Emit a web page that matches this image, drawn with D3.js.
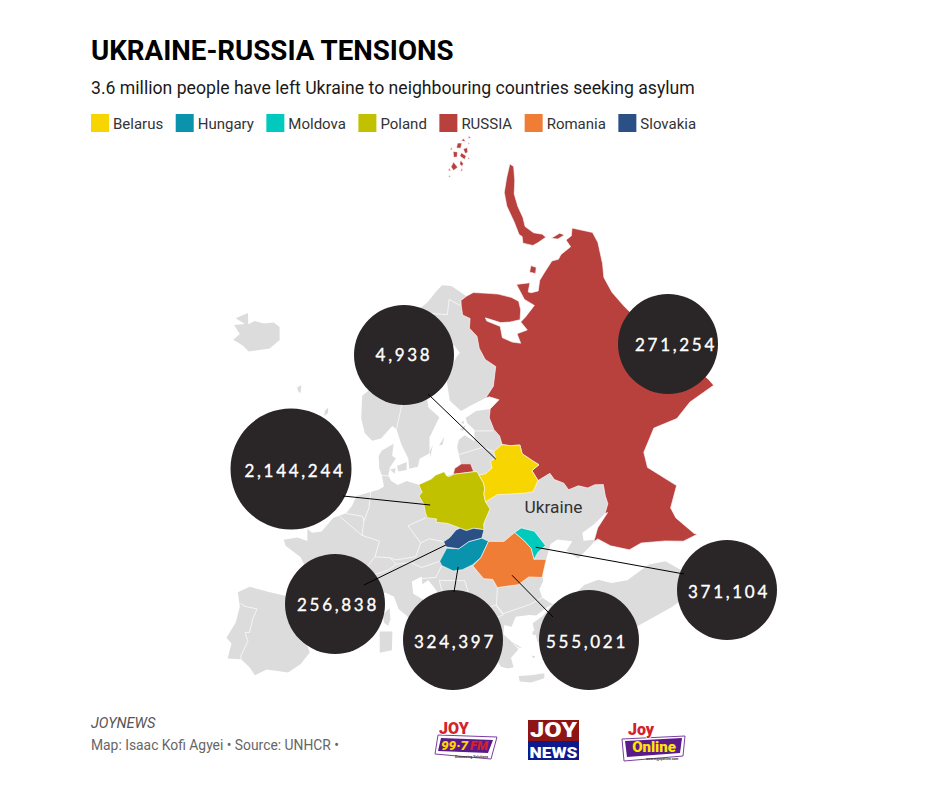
<!DOCTYPE html>
<html>
<head>
<meta charset="utf-8">
<script src="https://cdn.jsdelivr.net/npm/d3@7"></script>
<style>
  html, body { margin: 0; background: #fff; }
  text { font-family: Roboto, sans-serif; }
</style>
</head>
<body>
<div id="map"></div>
<script>
const width = 940;
const height = 788;

// Legend
const legendNames = ["Belarus", "Hungary", "Moldova", "Poland", "RUSSIA", "Romania", "Slovakia"];
const legendColors = ["#f7d500", "#0a93ac", "#00c9bd", "#c2c100", "#b8403d", "#f07d35", "#2b5086"];

// Refugee counts per neighbour
const calloutNames = ["Belarus", "RUSSIA", "Poland", "Slovakia", "Hungary", "Romania", "Moldova"];
const calloutValues = [4938, 271254, 2144244, 256838, 324397, 555021, 371104];
// Where each callout leader touches the country [lon, lat], null = no leader
const calloutAnchors = [[26.6, 55.0], null, [15.6, 52.0], [17.2, 48.3], [18.4, 46.2], [25.0, 44.6], [28.8, 46.5]];

// Outlines, all [lon, lat]
// Shared edge Russia / Baltics, Belarus, Ukraine, north to south
const russiaWestBorder = [[28.0,59.45],[27.4,58.7],[27.6,57.6],[28.2,56.9],[28.2,56.1],[29.4,55.8],[30.9,55.6],[30.8,54.8],[32.0,53.9],[32.7,53.4],[31.4,53.1],[31.8,52.1],[33.8,52.35],[34.1,51.7],[35.2,51.1],[35.5,50.4],[37.0,50.4],[38.1,49.9],[39.2,49.9],[40.3,49.6],[39.9,48.6],[39.8,47.9],[38.9,47.2]];

const europeLand = [[-5.6,36.0],[-6.3,36.6],[-7.4,37.2],[-8.9,37.0],[-8.8,38.4],[-9.5,38.8],[-8.8,40.3],[-8.7,41.8],[-9.3,43.0],[-8.0,43.7],[-5.8,43.6],[-3.8,43.5],[-1.8,43.4],[-1.2,44.6],[-1.2,46.0],[-2.2,47.1],[-4.4,47.9],[-4.8,48.4],[-3.0,48.8],[-1.6,48.6],[-1.8,49.7],[-1.1,49.4],[0.2,49.6],[1.6,50.9],[3.4,51.4],[4.2,52.1],[4.8,53.0],[6.9,53.4],[8.1,53.6],[8.9,53.9],[8.6,54.9],[8.2,55.5],[8.1,56.6],[8.6,57.1],[10.6,57.7],[10.3,56.6],[10.9,56.4],[9.9,55.6],[9.6,54.9],[10.0,54.4],[11.0,54.0],[12.4,54.3],[14.2,53.9],[16.2,54.3],[18.3,54.8],[18.6,54.4],[19.6,54.45],[20.0,54.95],[21.1,55.3],[21.0,56.8],[21.5,57.4],[22.6,57.7],[24.0,57.0],[24.4,58.0],[23.5,58.7],[23.4,59.2],[25.5,59.6]].concat(russiaWestBorder, [[36.9,46.7],[35.2,46.4],[35.0,45.7],[36.6,45.4],[35.4,45.0],[33.6,44.4],[32.5,45.4],[33.6,46.0],[31.8,46.6],[30.8,46.4],[29.7,45.2],[28.7,44.0],[28.6,43.4],[27.9,42.8],[28.0,42.0],[29.0,41.2],[28.0,41.0],[26.8,40.6],[26.0,40.8],[24.4,40.9],[23.7,40.1],[22.9,40.4],[22.6,39.6],[23.2,39.0],[24.0,38.0],[23.0,37.4],[23.1,36.5],[22.4,36.5],[21.7,36.8],[21.2,37.9],[21.2,38.3],[20.7,38.9],[19.4,40.4],[19.5,41.8],[18.4,42.5],[16.0,43.5],[15.0,44.7],[14.4,45.3],[13.6,45.0],[13.6,45.7],[12.3,45.3],[12.4,44.2],[13.6,43.6],[14.7,42.2],[16.2,41.8],[18.5,40.1],[16.9,40.4],[16.5,39.7],[17.1,39.0],[16.1,37.9],[15.7,38.0],[16.2,39.0],[15.6,40.1],[14.3,40.8],[12.3,41.7],[10.5,42.9],[10.0,44.0],[8.9,44.4],[7.5,43.8],[6.1,43.0],[4.0,43.5],[3.1,43.0],[3.2,41.9],[0.9,41.0],[-0.3,39.5],[0.2,38.7],[-0.7,37.6],[-2.0,36.7],[-4.4,36.7]]);

const nordicLand = [[12.9,55.4],[14.3,55.5],[14.7,56.2],[16.4,56.6],[16.7,58.0],[18.9,59.7],[17.2,60.7],[17.2,62.0],[18.6,63.0],[21.0,64.3],[21.3,65.2],[22.5,65.8],[24.6,65.8],[25.4,65.0],[24.5,64.7],[21.5,63.1],[21.3,61.0],[22.9,59.9],[25.0,60.2],[27.8,60.5],[29.8,61.3],[31.5,62.9],[30.0,63.8],[29.6,64.9],[30.0,66.0],[29.0,66.9],[29.9,67.7],[28.5,68.2],[28.9,69.0],[29.3,69.5],[31.0,69.7],[28.2,71.0],[25.8,71.3],[23.5,70.8],[21.0,70.1],[18.0,69.5],[15.5,68.4],[14.0,67.2],[12.5,65.4],[10.5,64.0],[8.0,63.2],[5.0,62.0],[5.0,60.0],[5.7,58.7],[7.0,58.0],[8.5,58.2],[10.5,59.3],[11.2,59.0],[11.9,57.6],[12.9,56.3]];

const turkeyLand = [[26.2,40.0],[27.5,40.4],[29.0,41.2],[31.4,41.3],[33.3,42.0],[35.1,42.0],[36.5,41.3],[38.4,41.0],[41.5,41.5],[43.5,41.1],[44.8,39.7],[44.5,37.5],[42.0,37.2],[36.0,36.7],[36.0,36.2],[34.0,36.2],[32.5,36.1],[30.6,36.8],[29.5,36.2],[27.5,37.0],[26.3,38.3],[26.2,39.4]];

const greyIslands = [
  [[-24.4,66.0],[-22.5,66.9],[-21.3,66.0],[-20.3,66.5],[-18.2,66.6],[-16.2,67.0],[-14.6,66.8],[-13.6,65.7],[-15.0,64.7],[-18.8,63.8],[-20.5,64.1],[-22.7,64.2],[-22.0,64.9],[-24.0,65.4],[-22.0,65.9]],
  [[-10.0,52.0],[-9.5,53.5],[-8.2,55.1],[-6.0,55.2],[-5.5,54.3],[-6.2,52.3],[-8.5,51.6]],
  [[-5.6,50.1],[-3.5,51.2],[-5.0,51.7],[-4.3,53.2],[-3.0,53.6],[-3.5,55.0],[-5.5,55.5],[-6.0,57.5],[-5.0,58.6],[-3.2,58.6],[-2.0,57.6],[-2.2,56.2],[-1.4,55.0],[0.2,53.5],[1.7,52.7],[1.0,51.3],[-1.0,50.7],[-3.5,50.3]],
  [[-1.6,59.9],[-1.0,60.2],[-1.1,60.7],[-1.6,60.4]],
  [[-7.5,62.0],[-6.8,62.3],[-6.6,61.6],[-7.0,61.6]],
  [[8.2,39.0],[8.2,40.9],[9.7,40.9],[9.6,39.2]],
  [[8.6,42.4],[9.4,43.0],[9.5,42.0],[9.2,41.4],[8.7,41.7]],
  [[12.5,38.0],[15.6,38.2],[15.1,36.7],[13.5,37.3]],
  [[23.5,35.65],[24.8,35.5],[26.3,35.4],[26.2,34.95],[24.7,34.85],[23.5,35.15]],
  [[2.4,39.6],[3.4,39.8],[3.1,39.3]],
  [[32.3,35.0],[34.5,35.6],[33.5,34.7]],
  [[23.2,38.9],[24.5,38.0],[24.0,38.2]],
  [[26.0,39.3],[26.6,39.3],[26.4,38.9],[25.9,39.0]],
  [[27.8,36.2],[28.3,36.5],[28.0,35.9]],
  [[25.3,37.2],[25.7,37.1],[25.5,36.9]],
  [[11.0,55.7],[12.6,56.0],[12.5,55.3],[11.2,55.2]],
  [[9.9,55.4],[10.8,55.5],[10.6,55.0]],
  [[18.1,57.2],[19.2,57.9],[18.7,57.2]],
  [[16.4,56.2],[17.1,57.3],[16.5,56.8]],
  [[22.0,58.3],[23.2,58.6],[22.5,58.1]],
  [[22.4,58.9],[23.0,59.0],[22.9,58.7]]
];

const russiaMain = [[31.0,69.7],[33.0,69.8],[36.0,69.3],[38.5,68.8],[41.0,68.0],[42.0,67.4],[41.4,66.65],[40.2,65.9],[38.0,66.1],[36.0,66.4],[33.3,67.3],[33.3,67.0],[35.6,66.1],[35.0,65.1],[36.5,64.4],[38.0,64.0],[38.2,64.9],[40.5,64.8],[40.1,65.7],[41.6,65.9],[44.6,66.4],[43.4,67.3],[43.7,68.8],[46.7,68.3],[45.1,67.7],[45.6,67.5],[47.2,67.3],[49.0,68.0],[51.0,68.3],[54.4,68.7],[55.9,68.44],[57.2,68.6],[60.3,68.5],[60.8,69.2],[62.5,69.1],[64.2,69.5],[66.6,67.9],[65.5,67.0],[62.5,65.5],[60.5,64.6],[59.5,63.2],[59.3,61.5],[59.5,59.8],[59.0,59.0],[60.0,58.0],[62.0,56.8],[63.0,55.5],[62.5,54.0],[61.0,53.9],[61.5,52.0],[61.5,51.3],[57.2,51.6],[54.2,51.2],[50.6,51.7],[47.5,50.4],[46.9,49.1],[47.9,47.9],[49.1,46.4],[47.0,45.0],[47.0,44.0],[48.1,42.0],[48.4,41.8],[46.5,41.9],[44.5,42.7],[41.7,43.5],[40.0,43.4],[38.0,44.4],[36.8,45.4],[36.2,45.3],[37.3,46.3],[39.3,47.2]].concat(russiaWestBorder.slice().reverse(), [[30.0,60.0],[28.5,60.5],[27.8,60.5],[29.8,61.3],[31.5,62.9],[30.0,63.8],[29.6,64.9],[30.0,66.0],[29.0,66.9],[29.9,67.7],[28.5,68.2],[28.9,69.0],[29.3,69.5]]);

const russiaIslands = [
  [[51.7,71.5],[52.8,72.0],[52.5,72.3],[54.0,73.4],[56.0,74.9],[59.0,75.9],[64.0,76.6],[69.5,77.1],[69.4,76.7],[65.0,75.9],[61.0,75.2],[58.5,74.2],[57.0,73.2],[55.5,72.5],[56.0,71.6],[57.5,71.0],[57.6,70.6],[55.0,70.7],[53.4,70.8]],
  [[48.2,69.1],[49.5,69.5],[50.3,69.1],[49.2,68.7]],
  [[58.4,70.2],[61.0,70.0],[61.5,69.6],[59.5,69.75]],
  [[19.65,54.45],[22.8,54.35],[22.6,55.1],[21.2,55.25],[20.0,54.95]],
  // Franz Josef Land
  [[50.5,80.7],[53.5,80.9],[53.0,80.3],[50.2,80.3]],
  [[55.0,80.4],[57.0,80.6],[56.5,80.2],[55.0,80.1]],
  [[58.5,80.9],[60.5,81.0],[60.8,80.5],[58.7,80.4]],
  [[61.5,80.7],[63.0,81.1],[65.0,80.9],[63.0,80.6]],
  [[55.5,81.2],[58.0,81.6],[59.5,81.3],[57.0,81.0]],
  [[61.0,81.6],[64.0,81.8],[65.5,81.5],[62.5,81.3]],
  [[66.5,81.7],[68.5,81.6],[67.5,81.3]],
  [[52.5,79.9],[54.5,80.0],[53.5,79.8]],
  [[48.0,80.6],[49.2,80.7],[49.0,80.4]],
  [[57.5,81.9],[59.5,81.95],[58.5,81.75]],
  [[46.0,80.1],[47.0,80.2],[46.8,80.0]],
  [[67.0,81.0],[68.0,81.1],[67.8,80.9]],
  [[60.0,80.2],[61.0,80.3],[60.8,80.1]],
  [[70.0,81.3],[71.5,81.35],[71.0,81.1]]
];

const poland = [[14.2,53.9],[16.2,54.3],[16.9,54.6],[18.3,54.8],[18.6,54.4],[19.0,54.3],[19.7,54.45],[22.8,54.35],[23.3,54.3],[23.5,53.95],[23.9,53.2],[23.9,52.7],[23.6,52.2],[23.6,51.5],[24.0,50.8],[23.0,49.9],[22.7,49.6],[22.6,49.1],[21.2,49.4],[20.2,49.3],[19.4,49.6],[18.6,49.9],[17.7,50.2],[17.0,50.3],[16.2,50.4],[16.3,50.7],[15.0,50.9],[14.8,51.4],[14.7,52.1],[14.1,52.9],[14.6,53.2]];
const belarus = [[23.5,53.95],[24.5,53.95],[25.7,54.3],[25.7,54.9],[26.6,55.1],[26.6,55.7],[28.2,56.1],[29.4,55.8],[30.9,55.6],[30.8,54.8],[32.0,53.9],[32.7,53.4],[31.4,53.1],[31.8,52.1],[30.6,51.3],[29.3,51.4],[28.7,51.5],[27.0,51.7],[25.5,51.9],[23.6,51.5],[23.6,52.2],[23.9,52.7],[23.9,53.2]];
const slovakia = [[16.9,48.6],[17.2,48.1],[18.8,47.8],[20.3,48.3],[22.1,48.4],[22.6,49.1],[21.2,49.4],[20.2,49.3],[19.4,49.6],[18.8,49.5],[17.8,48.9]];
const hungary = [[16.1,46.9],[17.2,48.0],[18.8,47.8],[20.3,48.3],[22.1,48.4],[22.9,48.0],[21.5,46.7],[20.3,46.2],[18.9,45.9],[17.7,45.9],[16.3,46.5]];
const romania = [[20.3,46.1],[21.5,46.7],[22.9,48.0],[24.9,47.7],[26.6,48.25],[27.6,47.3],[28.2,46.5],[28.2,45.5],[29.7,45.2],[28.6,43.75],[27.0,44.1],[25.5,43.65],[22.9,43.8],[22.5,44.6],[21.4,44.8],[20.8,45.5]];
const moldova = [[26.6,48.25],[27.6,48.5],[29.2,47.9],[30.1,46.4],[28.9,46.0],[28.2,45.5],[28.2,46.5],[27.6,47.3]];

// White borders between the grey countries
const greyBorders = [
  [[-1.8,43.4],[0.7,42.7],[3.2,42.4]],
  [[-8.7,42.1],[-8.1,41.9],[-6.6,41.9],[-6.9,41.0],[-7.0,39.7],[-7.5,39.6],[-7.0,38.9],[-7.5,37.5],[-7.4,37.2]],
  [[2.5,51.1],[4.2,50.3],[5.8,49.5],[8.2,49.0],[7.6,47.6],[6.1,46.3],[7.0,45.8],[7.6,44.0],[7.5,43.8]],
  [[7.6,47.6],[9.6,47.5],[10.4,46.9],[9.3,46.4],[8.4,46.2],[7.0,45.9]],
  [[3.4,51.4],[5.8,51.2],[6.0,50.8]],
  [[6.9,53.4],[6.7,52.0],[6.0,50.8],[5.8,49.5]],
  [[8.6,54.9],[9.9,54.8]],
  [[14.8,50.9],[12.2,50.3],[13.8,48.7],[13.0,47.5],[10.4,47.3],[9.6,47.5]],
  [[13.8,48.7],[15.0,49.0],[16.9,48.6]],
  [[10.4,46.9],[12.3,47.0],[13.7,46.5],[16.1,46.9]],
  [[13.6,45.5],[15.4,45.5],[16.3,46.5]],
  [[15.8,45.2],[19.0,44.9],[19.3,43.5],[18.4,42.6],[17.6,43.0],[16.0,44.2],[15.8,45.2]],
  [[19.3,43.5],[20.5,42.9],[20.5,42.0],[19.5,42.0]],
  [[20.5,42.0],[20.6,41.0],[21.0,40.0],[20.0,39.7]],
  [[20.5,42.0],[22.3,42.3],[23.0,41.3],[21.0,41.0]],
  [[22.9,43.8],[22.4,42.3],[23.0,41.4],[26.4,41.7],[28.0,42.0]],
  [[24.3,57.9],[27.4,57.5]],
  [[21.0,56.1],[25.0,56.3],[26.6,55.7]],
  [[11.2,59.0],[12.3,61.0],[12.1,63.5],[14.0,65.0],[15.5,66.3],[18.0,68.5],[20.5,69.1]],
  [[24.1,65.8],[23.5,67.5],[20.5,69.1]],
  [[20.5,69.1],[25.0,68.6],[26.5,69.9],[28.9,69.0]]
];

// Projection fitted to the picture
const projection = d3.geoAzimuthalEqualArea()
    .rotate([-8, -50])
    .scale(640)
    .translate([378, 530]);
const path = d3.geoPath().projection(projection);

// Make a polygon feature, fixing the ring winding for d3-geo
function polygon(ring) {
  const closed = ring.concat([ring[0]]);
  const f = { type: "Polygon", coordinates: [closed] };
  if (d3.geoArea(f) > 2 * Math.PI) f.coordinates = [closed.slice().reverse()];
  return f;
}

const svg = d3.select("#map").append("svg")
    .attr("width", width)
    .attr("height", height)
    .style("display", "block");

// Title block
svg.append("text").attr("x", 91).attr("y", 60)
    .attr("font-size", 27.7).attr("font-weight", 700).attr("fill", "#000")
    .text("UKRAINE-RUSSIA TENSIONS");
svg.append("text").attr("x", 91).attr("y", 94)
    .attr("font-size", 17.65).attr("fill", "#1a1a1a")
    .text("3.6 million people have left Ukraine to neighbouring countries seeking asylum");

// Legend, each item starts after the previous label
let legendX = 91;
legendNames.forEach((name, i) => {
  svg.append("rect").attr("x", legendX).attr("y", 114).attr("width", 18).attr("height", 18)
      .attr("fill", legendColors[i]);
  const label = svg.append("text").attr("x", legendX + 22).attr("y", 128.5)
      .attr("font-size", 15).attr("fill", "#333").text(name);
  legendX += 22 + label.node().getComputedTextLength() + 12.5;
});

// Map
const map = svg.append("g");
const colorOf = name => legendColors[legendNames.indexOf(name)];

map.selectAll("path.land")
    .data([europeLand, nordicLand, turkeyLand].concat(greyIslands))
  .join("path")
    .attr("class", "land")
    .attr("d", d => path(polygon(d)))
    .attr("fill", "#dcdcdc");

map.selectAll("path.border")
    .data(greyBorders)
  .join("path")
    .attr("class", "border")
    .attr("d", d => path({ type: "LineString", coordinates: d }))
    .attr("fill", "none")
    .attr("stroke", "#fff")
    .attr("stroke-width", 0.7);

const coloured = [
  { name: "RUSSIA", ring: russiaMain },
  ...russiaIslands.map(ring => ({ name: "RUSSIA", ring })),
  { name: "Poland", ring: poland },
  { name: "Belarus", ring: belarus },
  { name: "Hungary", ring: hungary },
  { name: "Slovakia", ring: slovakia },
  { name: "Romania", ring: romania },
  { name: "Moldova", ring: moldova }
];
map.selectAll("path.country")
    .data(coloured)
  .join("path")
    .attr("class", "country")
    .attr("d", d => path(polygon(d.ring)))
    .attr("fill", d => colorOf(d.name))
    .attr("stroke", "#fff")
    .attr("stroke-width", 0.6);

const ukrainePoint = projection([32.4, 48.9]);
svg.append("text").attr("x", ukrainePoint[0]).attr("y", ukrainePoint[1])
    .attr("text-anchor", "middle").attr("font-size", 17.3).attr("fill", "#333")
    .text("Ukraine");

// Callouts: bubble centre, label centre and leader end are placed by hand
const calloutLayout = [
  { cx: 404, cy: 355, tx: 404, ty: 354, lx: 428, ly: 394 },
  { cx: 668, cy: 344, tx: 676, ty: 344 },
  { cx: 291, cy: 469, tx: 295, ty: 470, lx: 343, ly: 496 },
  { cx: 335, cy: 604, tx: 338, ty: 604, lx: 364, ly: 585 },
  { cx: 453, cy: 640, tx: 455, ty: 641, lx: 454, ly: 592 },
  { cx: 589, cy: 640, tx: 587, ty: 641, lx: 553, ly: 617 },
  { cx: 727, cy: 590, tx: 729, ty: 591, lx: 684, ly: 574 }
];
const radius = d3.scaleThreshold().domain([1000000]).range([50, 60.5]);

calloutValues.forEach((value, i) => {
  const l = calloutLayout[i];
  svg.append("circle").attr("cx", l.cx).attr("cy", l.cy).attr("r", radius(value)).attr("fill", "#2a2526");
});
calloutValues.forEach((value, i) => {
  const l = calloutLayout[i];
  if (calloutAnchors[i]) {
    const a = projection(calloutAnchors[i]);
    svg.append("line").attr("x1", a[0]).attr("y1", a[1]).attr("x2", l.lx).attr("y2", l.ly)
        .attr("stroke", "#000").attr("stroke-width", 1);
  }
  svg.append("text").attr("x", l.tx).attr("y", l.ty)
      .attr("text-anchor", "middle").attr("dominant-baseline", "central")
      .style("font-family", "Lato, sans-serif")
      .attr("font-size", 17).attr("font-weight", 400).attr("letter-spacing", 2.7)
      .attr("fill", "#fff").attr("stroke", "#fff").attr("stroke-width", 0.35)
      .text(d3.format(",")(value));
});

// Footer
svg.append("text").attr("x", 91).attr("y", 728)
    .attr("font-size", 14.5).attr("font-style", "italic").attr("fill", "#555").text("JOYNEWS");
svg.append("text").attr("x", 91).attr("y", 750)
    .attr("font-size", 13.85).attr("fill", "#666").text("Map: Isaac Kofi Agyei • Source: UNHCR •");

// Station logos
function logoText(g, str, x, y, size, fill, extra) {
  const t = g.append("text").attr("x", x).attr("y", y).attr("font-size", size)
      .attr("font-weight", 900).attr("fill", fill)
      .attr("stroke", "#fff").attr("stroke-width", 1.5).style("paint-order", "stroke");
  if (extra) extra(t);
  return t.text(str);
}
const plain = t => t.attr("stroke", "none");
const italic = t => t.attr("stroke", "none").attr("font-style", "italic");
const stretched = w => t => plain(t).attr("text-anchor", "middle")
    .attr("textLength", w).attr("lengthAdjust", "spacingAndGlyphs");

const fm = svg.append("g").attr("transform", "translate(433,718)");
fm.append("path").attr("d", "M5,17 L64,19 L58,41 L2,36 Z").attr("fill", "#fff").attr("stroke", "#7b3fa0").attr("stroke-width", 1);
fm.append("path").attr("d", "M8,20 L60,22 L55,35 L5,33 Z").attr("fill", "#5b1a8a");
logoText(fm, "JOY", 6, 15.5, 16, "#d2232a");
logoText(fm, "99·7", 8, 31.5, 13.5, "#ffd500", italic);
logoText(fm, "FM", 37, 32, 13, "#d2232a", italic);
logoText(fm, "Discussing Solutions", 22, 39.5, 3.5, "#333", t => t.attr("stroke", "none").attr("font-weight", 700));

const news = svg.append("g").attr("transform", "translate(528,720)");
news.append("rect").attr("width", 51).attr("height", 21).attr("fill", "#8f1414");
news.append("rect").attr("y", 21).attr("width", 51).attr("height", 19).attr("fill", "#0d1a8c");
logoText(news, "JOY", 25.5, 17, 20, "#fff", stretched(47));
logoText(news, "NEWS", 25.5, 37.5, 15.5, "#fff", stretched(48));

const online = svg.append("g").attr("transform", "translate(620,720)");
online.append("path").attr("d", "M2,19 L65,16 L63,36 L4,41 Z").attr("fill", "#fff").attr("stroke", "#7b3fa0").attr("stroke-width", 1);
online.append("path").attr("d", "M5,21 L62,18 L60,33 L7,37 Z").attr("fill", "#5b1a8a");
logoText(online, "Joy", 8, 15, 16, "#d2232a");
logoText(online, "Online", 34, 31.5, 15, "#ffe600", t => plain(t).attr("text-anchor", "middle"));
logoText(online, "www.myjoyonline.com", 26, 39.5, 3.2, "#333", t => t.attr("stroke", "none").attr("font-weight", 700));
</script>
</body>
</html>
